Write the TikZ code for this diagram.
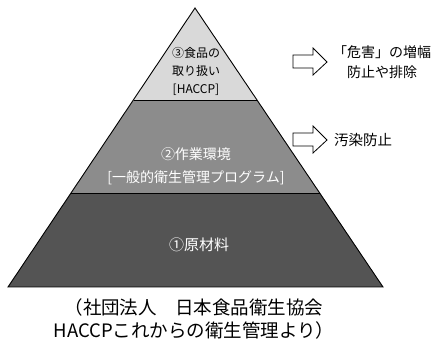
\documentclass[tikz,border=0pt]{standalone}
\usepackage{fontspec}
\newfontfamily\cjk{Noto Sans CJK JP}
\begin{document}
\begin{tikzpicture}[x=1pt,y=-1pt,
  band/.style={draw=black,line width=0.9pt,line join=miter},
  lbl/.style={font=\cjk,align=center,inner sep=0pt},
  blockarrow/.style={draw=black,line width=0.8pt,fill=white,line join=miter}]
\useasboundingbox (0,0) rectangle (432,347);
% pyramid corners
\coordinate (apex) at (195,8);
\coordinate (bl) at (8,287);
\coordinate (br) at (383,287);
\coordinate (t1l) at (133.5,100);
\coordinate (t1r) at (257,100);
\coordinate (t2l) at (71,193);
\coordinate (t2r) at (320,193);
% bands
\fill[black!67] (t2l) -- (t2r) -- (br) -- (bl) -- cycle;
\fill[black!45] (t1l) -- (t1r) -- (t2r) -- (t2l) -- cycle;
\fill[black!15] (apex) -- (t1r) -- (t1l) -- cycle;
\draw[band] (apex) -- (br) -- (bl) -- cycle;
\draw[band] (t1l) -- (t1r);
\draw[band] (t2l) -- (t2r);
% band labels
\node[lbl,font=\cjk\fontsize{12}{18}\selectfont,text=black] (top) at (196,71) {③食品の\\取り扱い\\{[HACCP]}};
\node[lbl,font=\cjk\fontsize{14}{23}\selectfont,text=white] (mid) at (196,166.5) {②作業環境\\{[一般的衛生管理プログラム]}};
\node[lbl,font=\cjk\fontsize{15}{18}\selectfont,text=white] (bot) at (199,245) {①原材料};
% arrows
\draw[blockarrow] (293,55) -- (313,55) -- (313,48) -- (327,62) -- (313,75) -- (313,68) -- (293,68) -- cycle;
\draw[blockarrow] (293,133) -- (313,133) -- (313,126) -- (327,140) -- (313,153) -- (313,146) -- (293,146) -- cycle;
% right labels
\node[lbl,font=\cjk\fontsize{14}{20}\selectfont] (r1) at (382,62) {「危害」の増幅\\防止や排除};
\node[lbl,font=\cjk\fontsize{14.5}{18}\selectfont,anchor=west] (r2) at (334,140) {汚染防止};
% caption
\node[lbl,font=\cjk\fontsize{18.5}{22.5}\selectfont] (cap) at (194,319) {（社団法人　日本食品衛生協会\\HACCPこれからの衛生管理より）};
\end{tikzpicture}
\end{document}
